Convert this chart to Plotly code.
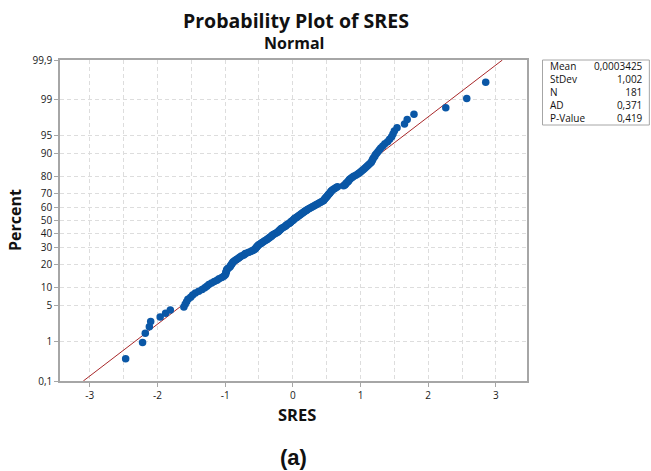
import plotly.graph_objects as go
from statistics import NormalDist

# Standardized residuals (SRES), sorted ascending
sres = [
    -2.47, -2.22, -2.18, -2.12, -2.10, -1.96, -1.88, -1.81, -1.61, -1.59,
    -1.57, -1.55, -1.51, -1.48, -1.44, -1.39, -1.34, -1.30, -1.27, -1.24,
    -1.20, -1.16, -1.12, -1.09, -1.05, -1.02, -1.00, -0.99, -0.99, -0.98,
    -0.98, -0.97, -0.95, -0.93, -0.92, -0.91, -0.90, -0.89, -0.88, -0.86,
    -0.84, -0.82, -0.80, -0.78, -0.76, -0.73, -0.71, -0.70, -0.66, -0.63,
    -0.60, -0.58, -0.56, -0.55, -0.54, -0.53, -0.52, -0.51, -0.49, -0.47,
    -0.46, -0.44, -0.42, -0.40, -0.38, -0.37, -0.35, -0.34, -0.32, -0.31,
    -0.30, -0.28, -0.26, -0.24, -0.22, -0.21, -0.20, -0.19, -0.18, -0.17,
    -0.15, -0.13, -0.11, -0.10, -0.09, -0.07, -0.05, -0.04, -0.03, -0.02,
    0.00, 0.01, 0.02, 0.03, 0.05, 0.06, 0.08, 0.09, 0.11, 0.12,
    0.14, 0.15, 0.17, 0.18, 0.20, 0.21, 0.23, 0.25, 0.27, 0.29,
    0.31, 0.33, 0.35, 0.37, 0.39, 0.41, 0.43, 0.45, 0.46, 0.47,
    0.48, 0.49, 0.50, 0.51, 0.52, 0.53, 0.54, 0.55, 0.56, 0.57,
    0.58, 0.60, 0.62, 0.64, 0.66, 0.75, 0.77, 0.78, 0.79, 0.81,
    0.82, 0.83, 0.84, 0.86, 0.88, 0.90, 0.93, 0.96, 0.98, 1.00,
    1.02, 1.04, 1.06, 1.08, 1.10, 1.12, 1.14, 1.16, 1.17, 1.18,
    1.19, 1.21, 1.22, 1.24, 1.26, 1.28, 1.30, 1.33, 1.36, 1.40,
    1.43, 1.46, 1.48, 1.50, 1.54, 1.65, 1.69, 1.79, 2.26, 2.57,
    2.85,
]

# Fitted normal parameters shown in the summary box
mean = 0.0003425
stdev = 1.002

stat_labels = ["Mean", "StDev", "N", "AD", "P-Value"]
stat_values = ["0,0003425", "1,002", "181", "0,371", "0,419"]

# Percent ticks on the probability (probit) axis
pct_ticks = [0.1, 1, 5, 10, 20, 30, 40, 50, 60, 70, 80, 90, 95, 99, 99.9]
pct_text = ["0,1", "1", "5", "10", "20", "30", "40", "50", "60", "70",
            "80", "90", "95", "99", "99,9"]

x_ticks = [-3, -2, -1, 0, 1, 2, 3]
x_text = ["-3", "-2", "-1", "0", "1", "2", "3"]

nd = NormalDist()
n = len(sres)
# Median-rank plotting positions, mapped onto the normal quantile scale
z = [nd.inv_cdf((i + 1 - 0.3) / (n + 0.4)) for i in range(n)]
z_lo = nd.inv_cdf(0.001)
z_hi = nd.inv_cdf(0.999)

fig = go.Figure()

fig.add_trace(go.Scatter(
    x=[mean + stdev * z_lo, mean + stdev * z_hi],
    y=[z_lo, z_hi],
    mode="lines",
    line=dict(color="#a8282a", width=1),
    hoverinfo="skip",
))

fig.add_trace(go.Scatter(
    x=sres, y=z,
    mode="markers",
    marker=dict(color="#0a57a6", size=7.5, line=dict(width=0)),
))

grid = dict(showgrid=True, gridcolor="#dddddd", griddash="4px,3px", gridwidth=1)
frame = dict(showline=True, linecolor="#a6a6a6", linewidth=1.5, mirror=True,
             zeroline=False, ticks="outside", ticklen=4, tickcolor="#a6a6a6",
             tickfont=dict(family="Open Sans", size=10, color="#1a1a1a"))

fig.update_xaxes(
    range=[-3.44, 3.46],
    tickvals=x_ticks,
    ticktext=x_text,
    minor=dict(dtick=0.5, tick0=0, showgrid=True, gridcolor="#dddddd",
               griddash="4px,3px", ticks=""),
    **grid, **frame,
)
fig.update_yaxes(
    range=[z_lo, z_hi],
    tickvals=[nd.inv_cdf(p / 100) for p in pct_ticks],
    ticktext=pct_text,
    **grid, **frame,
)

def ann(text, x, y, size, bold=True, family="Open Sans", angle=0,
        xanchor="center", color="#111111"):
    fig.add_annotation(
        text=f"<b>{text}</b>" if bold else text,
        x=x, y=y, xref="paper", yref="paper",
        xanchor=xanchor, yanchor="middle", showarrow=False, textangle=angle,
        font=dict(family=family, size=size, color=color),
    )

ann("Probability Plot of SRES", 0.5056, 1.1215, 19.5)
ann("Normal", 0.5006, 1.0545, 16)
ann("Percent", -0.0963, 0.5016, 16, angle=-90)
ann("SRES", 0.507, -0.1059, 16.5)
ann("(a)", 0.5005, -0.2368, 22, family="Liberation Sans, Arial")

# Summary statistics box: a label column and a right-aligned value column
fig.add_shape(type="rect", xref="paper", yref="paper",
              x0=1.0332, x1=1.262, y0=0.7975, y1=1.0,
              line=dict(color="#a6a6a6", width=1), fillcolor="white")
box_mid = (381 - 91.7) / 321
fig.add_annotation(text="<br>".join(stat_labels), x=1.048, y=box_mid,
                   xref="paper", yref="paper", xanchor="left", yanchor="middle",
                   align="left", showarrow=False, borderpad=0,
                   font=dict(family="Open Sans", size=10, color="#111111"))
fig.add_annotation(text="<br>".join(stat_values), x=1.2513, y=box_mid,
                   xref="paper", yref="paper", xanchor="right", yanchor="middle",
                   align="right", showarrow=False, borderpad=0,
                   font=dict(family="Open Sans", size=10, color="#111111"))

fig.update_layout(
    width=651, height=471,
    margin=dict(l=60, r=123.5, t=60, b=90),
    paper_bgcolor="white", plot_bgcolor="white",
    showlegend=False,
)

fig.write_html("out.html")
